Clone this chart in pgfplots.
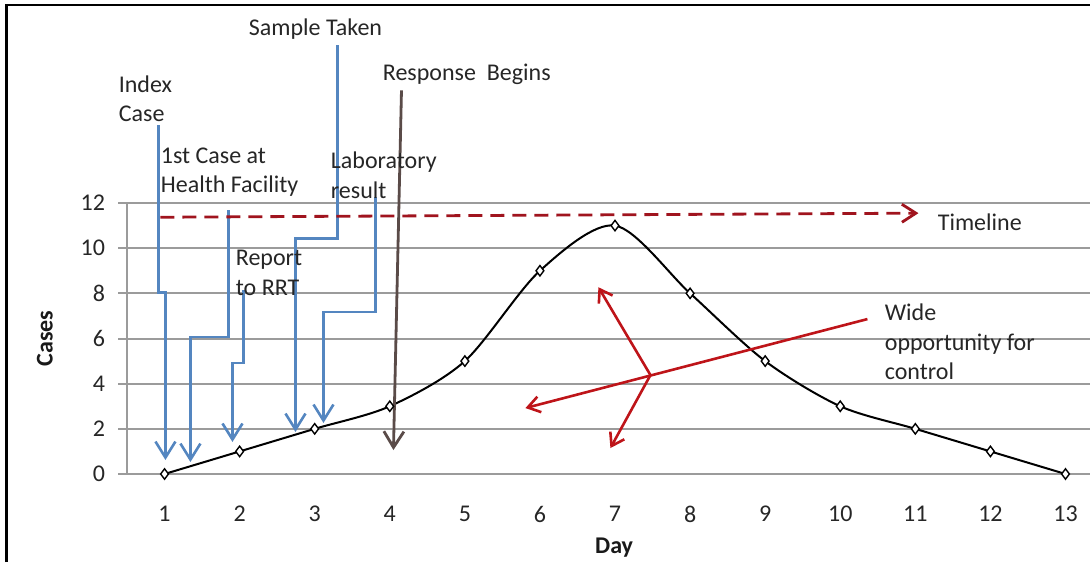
\documentclass[border=0pt]{standalone}
\usepackage{fontspec}
\setmainfont{Carlito}
\usepackage{pgfplots}
\pgfplotsset{compat=1.18}
\usetikzlibrary{arrows.meta}
\definecolor{annblue}{RGB}{84,134,192}
\definecolor{respcol}{RGB}{90,75,72}
\definecolor{tlred}{RGB}{160,20,30}
\definecolor{oppred}{RGB}{190,20,25}
\definecolor{gridgray}{RGB}{155,155,155}
\begin{document}
\begin{tikzpicture}
\useasboundingbox (0,0) rectangle (545pt,281pt);
\draw[line width=1.2pt] (3.3pt,0) -- (3.3pt,278.5pt) -- (545pt,278.5pt);
\begin{axis}[
  scale only axis,
  width=482pt, height=135.5pt,
  at={(63.5pt,44pt)}, anchor=south west,
  xmin=0.5, xmax=13.34, ymin=0, ymax=12,
  xtick={1,...,13}, ytick={0,2,...,12},
  axis x line*=bottom, axis y line*=left,
  axis line style={-},
  x axis line style={draw=none},
  y axis line style={gridgray, line width=1pt},
  ymajorgrids, grid style={gridgray, line width=1pt},
  xtick style={draw=none},
  ytick style={gridgray, line width=1pt},
  tick align=outside, major tick length=4.5pt,
  /pgf/number format/assume math mode=true,
  ticklabel style={font=\fontsize{12}{14}\selectfont, text=black!85},
  xticklabel style={yshift=-8pt},
  yticklabel style={xshift=-3pt},
  xlabel={Day}, ylabel={Cases},
  every axis x label/.style={at={(axis description cs:0.5053,0)}, anchor=base, yshift=-39.5pt, font=\fontsize{12}{14}\selectfont\bfseries, text=black!90},
  every axis y label/.style={at={(axis description cs:-0.0851,0.5)}, rotate=90, anchor=center, font=\fontsize{12}{14}\selectfont\bfseries, text=black!90},
  clip=false,
]
\addplot[black, line width=1pt, smooth, tension=0.5, mark=diamond*, mark size=2.6pt,
  mark options={fill=white, draw=black, line width=0.7pt}]
  coordinates {(1,0) (2,1) (3,2) (4,3) (5,5) (6,9) (7,11) (8,8) (9,5) (10,3) (11,2) (12,1) (13,0)};

% blue arrows
\begin{scope}[annblue, line width=1.3pt, -{Straight Barb[length=8pt,width=10pt]}]
\draw (axis cs:0.919,15.44) -- (axis cs:0.919,8.05) -- (axis cs:1.012,8.05) -- (axis cs:1.012,0.62);
\draw (axis cs:1.851,11.68) -- (axis cs:1.851,6.06) -- (axis cs:1.345,6.06) -- (axis cs:1.345,0.53);
\draw (axis cs:2.051,8.14) -- (axis cs:2.051,4.91) -- (axis cs:1.905,4.91) -- (axis cs:1.905,1.42);
\draw (axis cs:3.303,18.98) -- (axis cs:3.303,10.44) -- (axis cs:2.744,10.44) -- (axis cs:2.744,1.86);
\draw (axis cs:3.809,12.26) -- (axis cs:3.809,7.17) -- (axis cs:3.117,7.17) -- (axis cs:3.117,2.26);
\end{scope}
% response begins
\draw[respcol, line width=1.4pt, -{Straight Barb[length=8pt,width=10pt]}] (axis cs:4.156,16.99) -- (axis cs:4.049,1.06);
% timeline
\draw[tlred, line width=1.4pt, dash pattern=on 7pt off 4pt, -{Straight Barb[length=7pt,width=9pt]}] (axis cs:0.946,11.37) -- (axis cs:11.042,11.55);
% opportunity arrows
\begin{scope}[oppred, line width=1.3pt]
\draw[-{Straight Barb[length=6pt,width=8pt]}] (axis cs:7.472,4.38) -- (axis cs:6.779,8.27);
\draw[-{Straight Barb[length=6pt,width=8pt]}] (axis cs:7.472,4.38) -- (axis cs:6.939,1.15);
\draw[-{Straight Barb[length=6pt,width=8pt]}] (axis cs:10.362,6.86) -- (axis cs:5.807,2.92);
\end{scope}

% texts
\begin{scope}[every node/.style={anchor=base west, inner sep=0pt, font=\fontsize{12}{14.5}\selectfont, text=black!85}]
\node at (axis cs:0.386,16.90) {Index};
\node at (axis cs:0.386,15.62) {Case};
\node at (axis cs:0.946,13.76) {1st Case at};
\node at (axis cs:0.946,12.48) {Health Facility};
\node at (axis cs:2.118,19.42) {Sample Taken};
\node at (axis cs:3.210,13.54) {Laboratory};
\node at (axis cs:3.210,12.21) {result};
\node at (axis cs:3.903,17.43) {Response\ \ Begins};
\node at (axis cs:1.945,9.25) {Report};
\node at (axis cs:1.945,7.92) {to RRT};
\node at (axis cs:11.295,10.80) {Timeline};
\node at (axis cs:10.589,6.81) {Wide};
\node at (axis cs:10.589,5.49) {opportunity for};
\node at (axis cs:10.589,4.20) {control};
\end{scope}
\end{axis}
\end{tikzpicture}
\end{document}
